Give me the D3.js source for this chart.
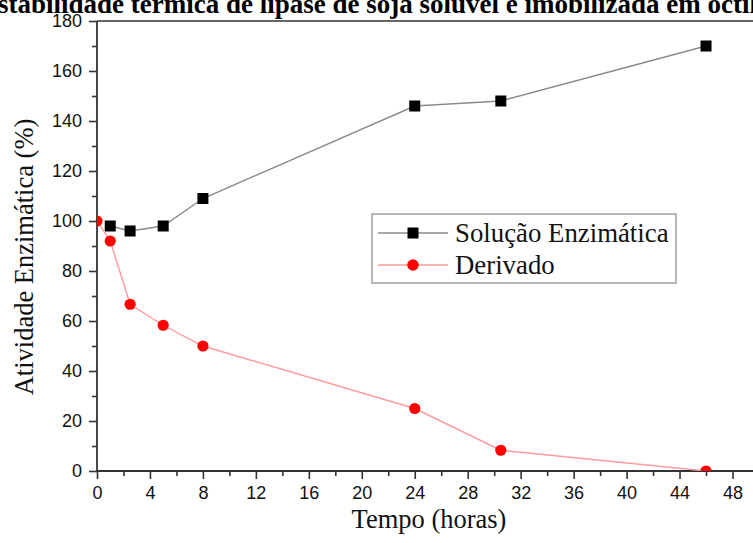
<!DOCTYPE html>
<html>
<head>
<meta charset="utf-8">
<script src="https://cdn.jsdelivr.net/npm/d3@7/dist/d3.min.js"></script>
<style>
  html, body { margin: 0; padding: 0; background: #fff; }
  svg { display: block; }
</style>
</head>
<body>
<svg id="chart" width="753" height="543"></svg>
<script>
// Enzyme activity over time for the soluble enzyme solution and the immobilized derivative
const seriesNames = ["Solução Enzimática", "Derivado"];
const solucaoTempo = [1, 2.5, 5, 8, 24, 30.5, 46];
const solucaoAtividade = [98, 96, 98, 109, 146, 148, 170];
const derivadoTempo = [0, 1, 2.5, 5, 8, 24, 30.5, 46];
const derivadoAtividade = [100, 92, 66.7, 58.3, 50, 25, 8.3, 0];

const xTicks = [0, 4, 8, 12, 16, 20, 24, 28, 32, 36, 40, 44, 48];
const xMinorTicks = [2, 6, 10, 14, 18, 22, 26, 30, 34, 38, 42, 46];
const yTicks = [0, 20, 40, 60, 80, 100, 120, 140, 160, 180];
const yMinorTicks = [10, 30, 50, 70, 90, 110, 130, 150, 170];

const titleText = "Estabilidade térmica de lipase de soja solúvel e imobilizada em octil";
const xTitle = "Tempo (horas)";
const yTitle = "Atividade Enzimática (%)";

const svg = d3.select("#chart");
const plotLeft = 97, plotTop = 21, plotBottom = 471, frameRight = 775;

const x = d3.scaleLinear().domain([0, 48]).range([plotLeft, 732.5]);
const y = d3.scaleLinear().domain([0, 180]).range([plotBottom, plotTop]);

const sans = "'Liberation Sans', Arial, sans-serif";
const serif = "'Liberation Serif', 'Times New Roman', serif";

// Title running across the top edge
const title = svg.append("text")
  .attr("y", 13)
  .attr("font-family", serif)
  .attr("font-weight", "bold")
  .attr("font-size", 27)
  .attr("fill", "#000")
  .text(titleText);
const probe = svg.append("text")
  .attr("font-family", serif).attr("font-weight", "bold").attr("font-size", 27)
  .text("E");
const eWidth = probe.node().getComputedTextLength();
probe.remove();
title.attr("x", -2 - eWidth);

// Clip region for the data marks
svg.append("defs").append("clipPath").attr("id", "plotClip")
  .append("rect")
  .attr("x", plotLeft).attr("y", plotTop)
  .attr("width", frameRight - plotLeft).attr("height", plotBottom - plotTop);

// Axes: major ticks with labels, minor ticks without
svg.append("g").attr("transform", `translate(${plotLeft},0)`)
  .call(d3.axisLeft(y).tickValues(yTicks).tickSize(8).tickSizeOuter(0).tickPadding(7));
svg.append("g").attr("transform", `translate(${plotLeft},0)`)
  .call(d3.axisLeft(y).tickValues(yMinorTicks).tickSize(5).tickSizeOuter(0).tickFormat(""));

svg.append("g").attr("transform", `translate(0,${plotBottom})`)
  .call(d3.axisBottom(x).tickValues(xTicks).tickSize(8).tickSizeOuter(0).tickPadding(7));
svg.append("g").attr("transform", `translate(0,${plotBottom})`)
  .call(d3.axisBottom(x).tickValues(xMinorTicks).tickSize(5).tickSizeOuter(0).tickFormat(""));

svg.selectAll(".domain").remove();
svg.selectAll(".tick line").attr("stroke", "#333").attr("stroke-width", 1.6);
svg.selectAll(".tick text")
  .attr("font-family", sans)
  .attr("font-size", 18)
  .attr("fill", "#111");

// Frame: top edge and the two axis lines
svg.append("line")
  .attr("x1", plotLeft).attr("x2", frameRight).attr("y1", plotTop).attr("y2", plotTop)
  .attr("stroke", "#666").attr("stroke-width", 2);
svg.append("line")
  .attr("x1", plotLeft).attr("x2", plotLeft).attr("y1", plotTop).attr("y2", plotBottom)
  .attr("stroke", "#333").attr("stroke-width", 1.8);
svg.append("line")
  .attr("x1", plotLeft).attr("x2", frameRight).attr("y1", plotBottom).attr("y2", plotBottom)
  .attr("stroke", "#333").attr("stroke-width", 1.8);

// Axis titles
svg.append("text")
  .attr("x", 429).attr("y", 528)
  .attr("text-anchor", "middle")
  .attr("font-family", serif).attr("font-size", 26.5).attr("fill", "#111")
  .text(xTitle);
svg.append("text")
  .attr("transform", "rotate(-90)")
  .attr("x", -257).attr("y", 33)
  .attr("text-anchor", "middle")
  .attr("font-family", serif).attr("font-size", 26.5).attr("fill", "#111")
  .text(yTitle);

// Data series
const plot = svg.append("g").attr("clip-path", "url(#plotClip)");
const line = d3.line().x(d => x(d[0])).y(d => y(d[1]));

const solucao = solucaoTempo.map((t, i) => [t, solucaoAtividade[i]]);
const derivado = derivadoTempo.map((t, i) => [t, derivadoAtividade[i]]);

plot.append("path").datum(solucao)
  .attr("d", line).attr("fill", "none")
  .attr("stroke", "#8a8a8a").attr("stroke-width", 1.4);
plot.selectAll("rect.sq").data(solucao).join("rect")
  .attr("class", "sq")
  .attr("x", d => x(d[0]) - 5.5).attr("y", d => y(d[1]) - 5.5)
  .attr("width", 11).attr("height", 11)
  .attr("fill", "#000");

plot.append("path").datum(derivado)
  .attr("d", line).attr("fill", "none")
  .attr("stroke", "#ff9a9a").attr("stroke-width", 1.4);
plot.selectAll("circle.pt").data(derivado).join("circle")
  .attr("class", "pt")
  .attr("cx", d => x(d[0])).attr("cy", d => y(d[1]))
  .attr("r", 5.6)
  .attr("fill", "#ff0000");

// Legend
const legend = svg.append("g");
legend.append("rect")
  .attr("x", 372).attr("y", 214).attr("width", 304).attr("height", 69)
  .attr("fill", "#fff").attr("stroke", "#888").attr("stroke-width", 1.2);

const rows = [
  { name: seriesNames[0], color: "#8a8a8a", yPos: 233, shape: "square" },
  { name: seriesNames[1], color: "#ff9a9a", yPos: 265, shape: "circle" }
];
rows.forEach(r => {
  legend.append("line")
    .attr("x1", 378).attr("x2", 448).attr("y1", r.yPos).attr("y2", r.yPos)
    .attr("stroke", r.color).attr("stroke-width", 1.4);
  if (r.shape === "square") {
    legend.append("rect")
      .attr("x", 413 - 5.5).attr("y", r.yPos - 5.5)
      .attr("width", 11).attr("height", 11).attr("fill", "#000");
  } else {
    legend.append("circle")
      .attr("cx", 413).attr("cy", r.yPos).attr("r", 5.8).attr("fill", "#ff0000");
  }
  legend.append("text")
    .attr("x", 455).attr("y", r.yPos + 8.5)
    .attr("font-family", serif).attr("font-size", 26.8).attr("fill", "#111")
    .text(r.name);
});
</script>
</body>
</html>
